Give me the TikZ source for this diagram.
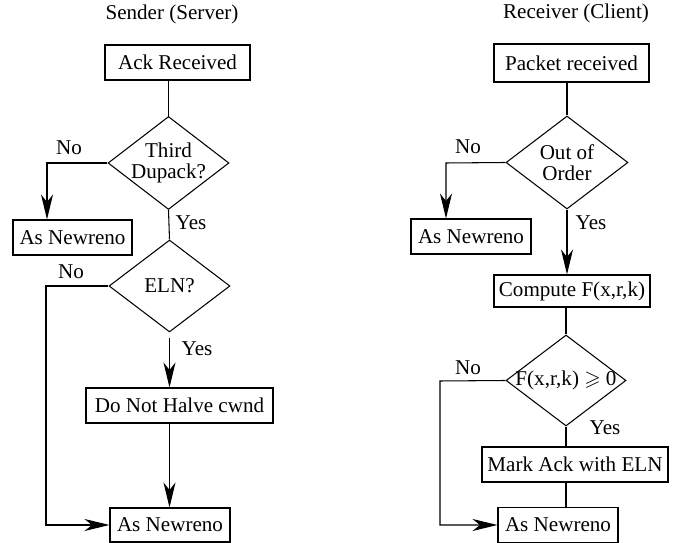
\documentclass[tikz,border=0pt]{standalone}
\usepackage{fontspec}
\setmainfont{Liberation Serif}
\usepackage{amssymb}
\usetikzlibrary{arrows.meta,shapes.geometric,positioning}

\begin{document}
\begin{tikzpicture}[x=0.02cm,y=-0.02cm,line width=0.6pt,
    font=\fontsize{12}{12}\selectfont,
    >={Stealth[length=0.5cm,width=0.24cm,inset=0.15cm]},
    box/.style={draw,rectangle,inner sep=0pt,minimum height=0.7cm},
    test/.style={draw,diamond,inner sep=0pt,minimum width=2.42cm,minimum height=1.86cm}]

    \useasboundingbox (0,0) rectangle (687,543);

    %sender side: ack handling
    \node (sender) at (172,14) {Sender (Server)};
    \node[box,minimum width=2.9cm] (ack) at (177.5,62.5) {Ack Received};
    \node[test,label={[align=center]center:Third\\Dupack?}] (dup) at (168.5,163) {};
    \node[box,minimum width=2.38cm] (asnr1) at (72.5,237.5) {As Newreno};
    \node[test,minimum height=1.84cm,label={center:ELN?}] (eln) at (169.5,286) {};
    \node[box,minimum width=3.74cm] (halve) at (179.5,405.5) {Do Not Halve cwnd};
    \node[box,minimum width=2.4cm,minimum height=0.68cm] (asnr2) at (170,525) {As Newreno};

    \coordinate (nol1) at (47,163);
    \coordinate (nol2) at (46,286);

    \node (no1) at (69,148) {No};
    \node (yes1) at (191,223) {Yes};
    \node (no2) at (71,272) {No};
    \node (yes2) at (197,349) {Yes};

    \draw (dup.north) -- (dup.north |- ack.south);
    \draw[->] (dup.west) -- (nol1) -- (nol1 |- asnr1.north);
    \draw (dup.south) -- (eln.north);
    \draw[->] (eln.west) -- (nol2) |- (asnr2.west);
    \draw[->,shorten <=3pt] (eln.south) -- (eln.south |- halve.north);
    \draw[->] (eln.south |- halve.south) -- (eln.south |- asnr2.north);

    %receiver side: packet handling
    \node (receiver) at (576,13) {Receiver (Client)};
    \node[box,minimum width=3.1cm,minimum height=0.76cm] (pkt) at (571.5,63) {Packet received};
    \node[test,minimum width=2.44cm,label={[align=center]center:Out of\\Order}] (order) at (567,162.5) {};
    \node[box,minimum width=2.4cm] (asnr3) at (471,236.5) {As Newreno};
    \node[box,minimum width=3.12cm,minimum height=0.64cm] (comp) at (572,291) {Compute F(x,r,k)};
    \node[test,minimum width=2.4cm,minimum height=1.82cm,
        label={center:F(x,r,k) $\geqslant$ 0}] (geq) at (566,380.5) {};
    \node[box,minimum width=3.72cm] (mark) at (575,464.5) {Mark Ack with ELN};
    \node[box,minimum width=2.4cm] (asnr4) at (558,525) {As Newreno};

    \coordinate (nor1) at (446,163);
    \coordinate (nor2) at (440,381);

    \node (no3) at (468,147) {No};
    \node (yes3) at (591,223) {Yes};
    \node (no4) at (468,368) {No};
    \node (yes4) at (605,428) {Yes};

    \draw (order.north) -- (order.north |- pkt.south);
    \draw[->] (order.west) -- (nor1) -- (nor1 |- asnr3.north);
    \draw[->] (order.south) -- (order.south |- comp.north);
    \draw (geq.north) -- (geq.north |- comp.south);
    \draw[->] (geq.west) -- (nor2) |- (asnr4.west);
    \draw (geq.south) -- (geq.south |- mark.north);
    \draw (geq.south |- mark.south) -- (geq.south |- asnr4.north);
\end{tikzpicture}
\end{document}
